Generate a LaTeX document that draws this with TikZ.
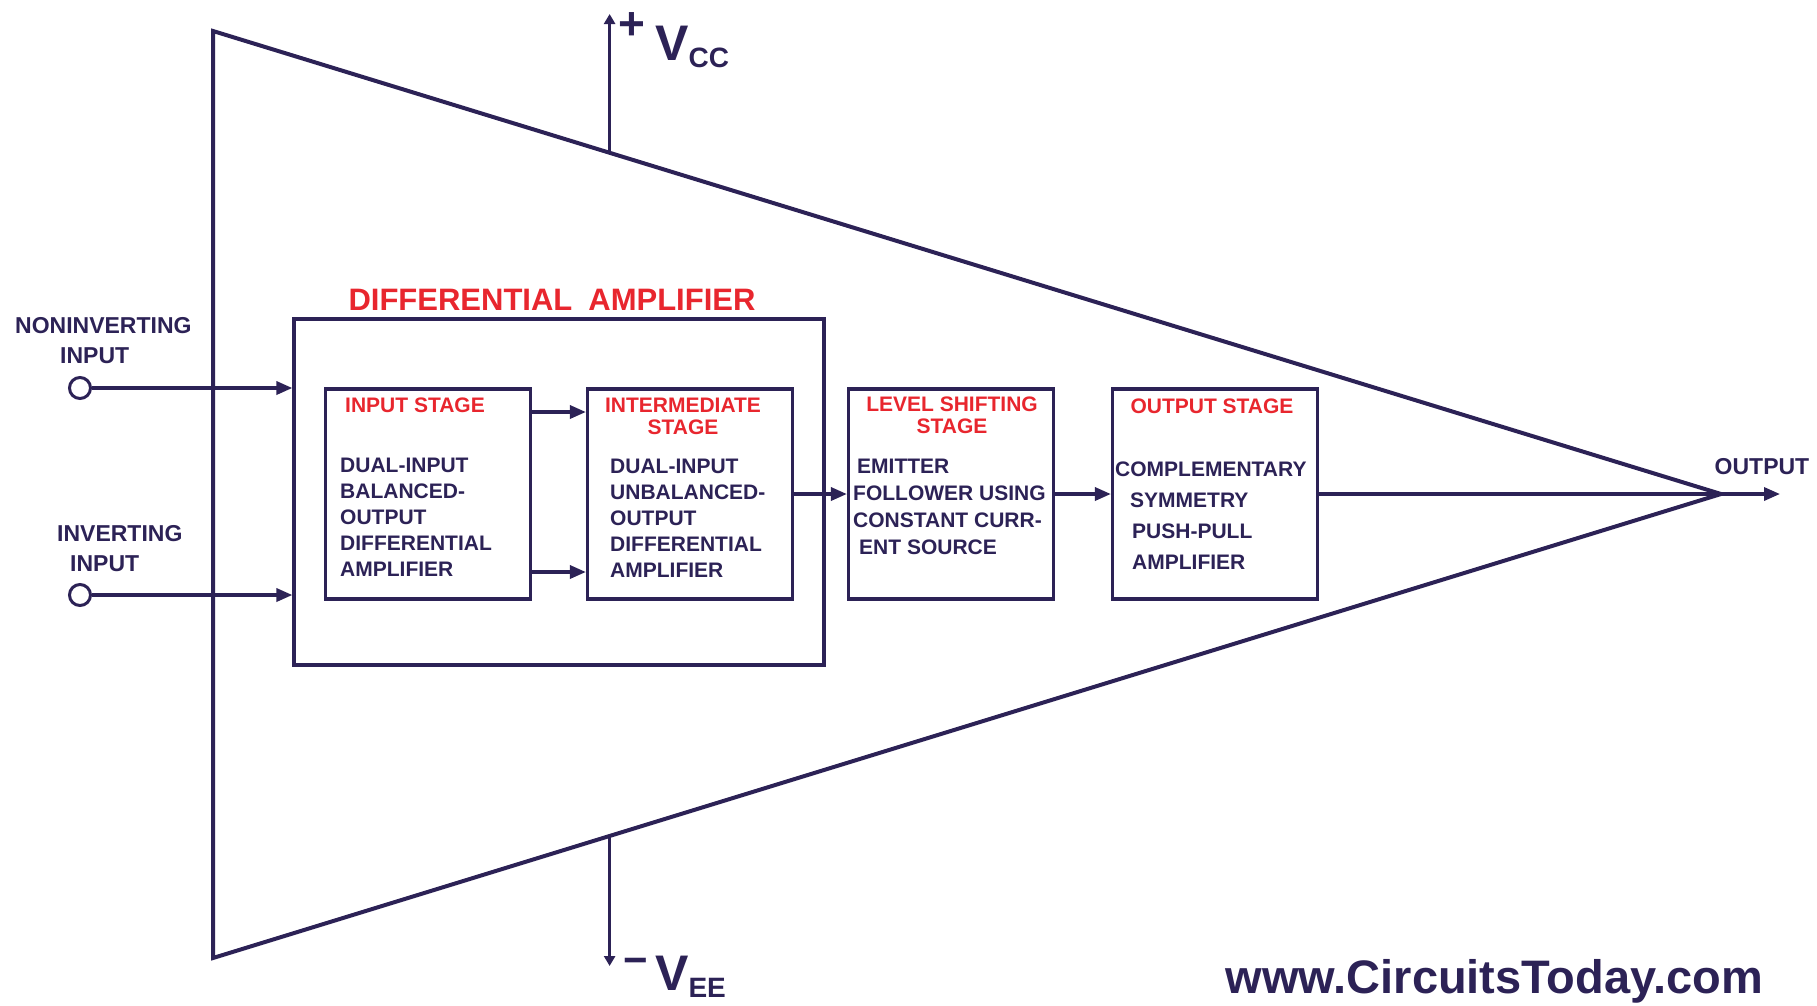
\documentclass[tikz,border=0pt]{standalone}
\usepackage{fontspec}
\setmainfont{Liberation Sans}
\usetikzlibrary{positioning,arrows.meta,calc}

\definecolor{wire}{RGB}{44,34,86}
\definecolor{hot}{RGB}{232,38,46}

\begin{document}
\begin{tikzpicture}[
  x=1pt, y=-1pt,
  every node/.style={font=\bfseries\fontsize{21}{26}\selectfont, text=wire, inner sep=0pt},
  stage/.style ={draw=wire, line width=3.2pt, minimum width=205pt, minimum height=210pt},
  group/.style ={draw=wire, line width=3.2pt, minimum width=530pt, minimum height=346pt},
  head/.style  ={text=hot, align=center, anchor=north, font=\bfseries\fontsize{21}{22}\selectfont},
  body/.style  ={align=left, anchor=north west},
  pin/.style   ={font=\bfseries\fontsize{23}{30}\selectfont, align=left, anchor=north west},
  term/.style  ={circle, draw=wire, line width=3pt, minimum size=21pt, fill=white},
  big/.style   ={anchor=base west, font=\bfseries\fontsize{50}{50}\selectfont},
  flow/.style  ={-{Triangle[length=16pt,width=13pt]}, draw=wire, line width=3.4pt},
  rail/.style  ={-{Triangle[length=10pt,width=11pt]}, draw=wire, line width=3pt},
]
\useasboundingbox (0,0) rectangle (1817,1005);

% op-amp body
\coordinate (tl) at (213,31);
\coordinate (bl) at (213,958);
\coordinate (apex) at (1721,494);
\draw[wire, line width=4pt, line join=miter] (tl) -- (apex) -- (bl) -- cycle;

% differential amplifier group
\node[group] (diff) at (559,492) {};
\node[text=hot, font=\bfseries\fontsize{31}{31}\selectfont] (difftitle) at (552,300) {DIFFERENTIAL\hspace{16pt}AMPLIFIER};

% stages
\node[stage] (inst)  at (428,494)  {};
\node[stage] (midst) at (690,494)  {};
\node[stage] (lvlst) at (951,494)  {};
\node[stage] (outst) at (1215,494) {};

\node[head] (insthead)  at (415,398) {INPUT STAGE};
\node[head] (midsthead) at (683,398) {INTERMEDIATE\\STAGE};
\node[head] (lvlsthead) at (952,397) {LEVEL SHIFTING\\STAGE};
\node[head] (outsthead) at (1212,399) {OUTPUT STAGE};

\node[body] (instbody)  at (340,458) {DUAL-INPUT\\BALANCED-\\OUTPUT\\DIFFERENTIAL\\AMPLIFIER};
\node[body] (midstbody) at (610,459) {DUAL-INPUT\\UNBALANCED-\\OUTPUT\\DIFFERENTIAL\\AMPLIFIER};
\node[body, font=\bfseries\fontsize{21}{27}\selectfont] (lvlstbody) at (853,459)
  {\hspace*{4pt}EMITTER\\FOLLOWER USING\\CONSTANT CURR-\\\hspace*{6pt}ENT SOURCE};
\node[body, font=\bfseries\fontsize{21}{31}\selectfont] (outstbody) at (1115,462)
  {COMPLEMENTARY\\\hspace*{15pt}SYMMETRY\\\hspace*{17pt}PUSH-PULL\\\hspace*{17pt}AMPLIFIER};

% inputs
\node[pin] (ninvlbl) at (15,317) {NONINVERTING\\\hspace*{45pt}INPUT};
\node[pin] (invlbl)  at (57,525) {INVERTING\\\hspace*{13pt}INPUT};
\node[term] (ninv) at (80,388) {};
\node[term] (inv)  at (80,595) {};

\draw[flow] (ninv) -- (ninv -| diff.west);
\draw[flow] (inv) -- (inv -| diff.west);

% signal path
\draw[flow] ([yshift=82pt]inst.east) -- ([yshift=82pt]midst.west);
\draw[flow] ([yshift=-78pt]inst.east) -- ([yshift=-78pt]midst.west);
\draw[flow] (midst) -- (lvlst);
\draw[flow] (lvlst) -- (outst);

\coordinate (outtip) at (1780,494);
\draw[flow] (outst.east) -- (outtip);
\node[font=\bfseries\fontsize{23}{23}\selectfont] (outlbl) at (1762,467) {OUTPUT};

% supplies
\coordinate (vcctip) at (610,14);
\coordinate (vccfoot) at ($(tl)!0.263!(apex)$);
\draw[rail] (vccfoot) -- (vccfoot |- vcctip);
\node[font=\bfseries\fontsize{46}{46}\selectfont] (vccsign) at (632,26) {+};
\node[big] (vcclbl) at (655,60) {V\raisebox{-7pt}{\fontsize{28}{28}\selectfont CC}};

\coordinate (veetip) at (610,966);
\coordinate (veefoot) at ($(bl)!0.263!(apex)$);
\draw[rail] (veefoot) -- (veefoot |- veetip);
\node[font=\bfseries\fontsize{42}{42}\selectfont] (veesign) at (636,966) {−};
\node[big] (veelbl) at (655,990) {V\raisebox{-7pt}{\fontsize{28}{28}\selectfont EE}};

\node[anchor=base east, font=\bfseries\fontsize{47}{47}\selectfont] (site) at (1763,993) {www.CircuitsToday.com};

\end{tikzpicture}
\end{document}
